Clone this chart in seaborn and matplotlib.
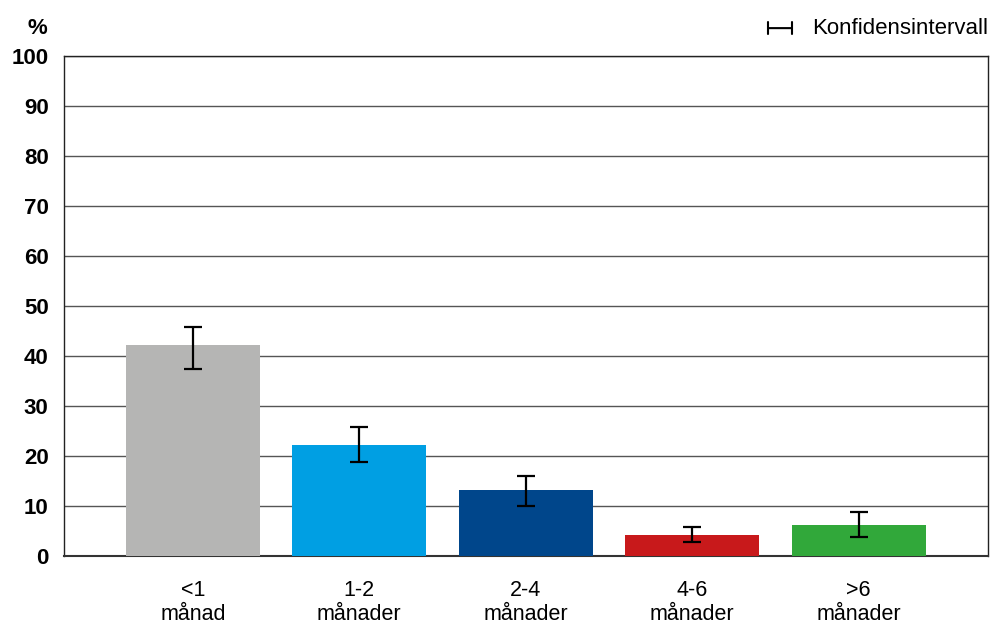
import matplotlib
matplotlib.use('Agg')
import matplotlib.pyplot as plt
import numpy as np
import pandas as pd
import seaborn as sns

# data
categories = ['<1\nmånad', '1-2\nmånader', '2-4\nmånader', '4-6\nmånader', '>6\nmånader']
values = [42.3, 22.3, 13.3, 4.3, 6.3]
ci_low = [37.4, 18.8, 10.0, 2.9, 3.8]
ci_high = [45.7, 25.9, 16.1, 5.8, 8.9]
colors = ['#b5b5b4', '#009fe3', '#00468b', '#c8191b', '#31a83a']
yticks = [0, 10, 20, 30, 40, 50, 60, 70, 80, 90, 100]

df = pd.DataFrame({'kat': categories, 'andel': values})

sns.set_style('white')
plt.rcParams['font.family'] = ['Liberation Sans', 'DejaVu Sans']
plt.rcParams['text.color'] = 'black'
plt.rcParams['xtick.color'] = 'black'
plt.rcParams['ytick.color'] = 'black'

fig = plt.figure(figsize=(9.9, 6.25), dpi=100)
ax = fig.add_axes([0.0646, 0.1104, 0.9334, 0.80])

sns.barplot(data=df, x='kat', y='andel', hue='kat', palette=colors,
            legend=False, width=0.805, saturation=1, linewidth=0,
            edgecolor='none', ax=ax, zorder=3)

x = np.arange(len(categories))
v = np.array(values)
err = [v - np.array(ci_low), np.array(ci_high) - v]
ax.errorbar(x, v, yerr=err, fmt='none', ecolor='black', elinewidth=1.6,
            capsize=6.5, capthick=1.6, zorder=4)

ax.set_ylim(0, 100)
ax.set_xlim(-0.775, 4.778)
ax.set_yticks(yticks)
ax.set_yticklabels([str(t) for t in yticks], fontsize=16, fontweight='bold')
ax.tick_params(axis='x', labelsize=15.5, length=0, pad=17)
ax.tick_params(axis='y', length=0, pad=11)
for lbl in ax.get_xticklabels():
    lbl.set_linespacing(1.2)
ax.set_xlabel('')
ax.set_ylabel('')
ax.yaxis.grid(True, color='#555555', linewidth=1.0, zorder=0)
ax.set_axisbelow(True)
for s in ['left', 'top', 'right']:
    ax.spines[s].set_color('#222222')
    ax.spines[s].set_linewidth(1.0)
ax.spines['bottom'].set_color('#333333')
ax.spines['bottom'].set_linewidth(1.5)

fig.text(0.038, 0.955, '%', fontsize=16, fontweight='bold', ha='center', va='center')
fig.text(0.998, 0.955, 'Konfidensintervall', fontsize=16, ha='right', va='center')
ax.annotate('', xy=(0.800, 0.955), xytext=(0.776, 0.955), xycoords='figure fraction',
            arrowprops=dict(arrowstyle='|-|, widthA=0.42, widthB=0.42', color='black', lw=1.5,
                            shrinkA=0, shrinkB=0))

fig.savefig('out.png', dpi=100)
